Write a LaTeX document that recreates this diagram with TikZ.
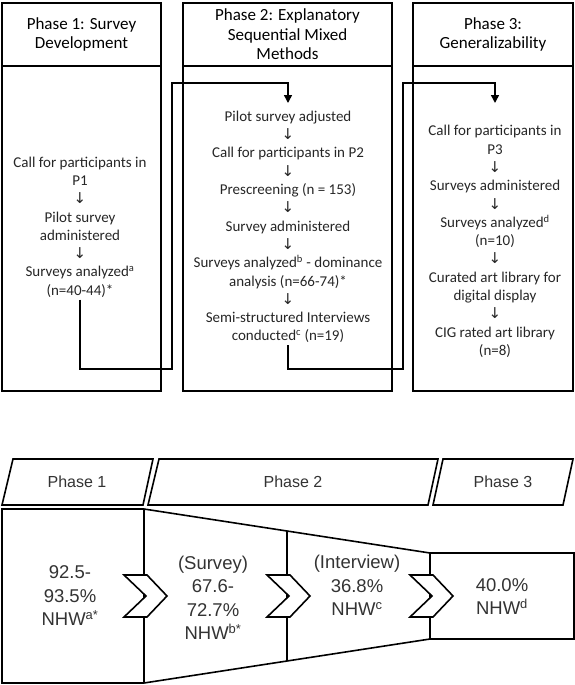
\documentclass[tikz,border=0pt]{standalone}
\usepackage{fontspec}
\setmainfont{Carlito}
\newfontfamily\arialf{Liberation Sans}
\newfontfamily\arrf{DejaVu Sans}
\usetikzlibrary{arrows.meta}
\newcommand{\dnarr}{{\arrf\fontsize{15}{15}\selectfont ↓}}
\tikzset{
  box/.style={line width=1.8pt},
  conn/.style={line width=1.5pt},
  head/.style={align=center, font=\fontsize{17}{19.5}\selectfont},
  steps/.style={align=center, inner sep=2pt, font=\fontsize{15}{18.3}\selectfont, text=black!85},
  plabel/.style={font=\arialf\fontsize{16}{19}\selectfont, text=black!80},
  stat/.style={align=center, font=\arialf\fontsize{18.5}{23.5}\selectfont, text=black!80},
  band/.style={line width=1.6pt, line join=miter},
}
\begin{document}
\begin{tikzpicture}[x=1pt,y=-1pt]
\useasboundingbox (0,0) rectangle (575,685);
% ---------- top: three phase boxes ----------
\draw[box] (2,3) rectangle (161,391);
\draw[box] (2,66) -- (161,66);
\draw[box] (183,3) rectangle (392,391);
\draw[box] (183,66) -- (392,66);
\draw[box] (413,3) rectangle (573,391);
\draw[box] (413,66) -- (573,66);

\node[head] (h1) at (81.5,34.5) {Phase 1: Survey\\Development};
\node[head] (h2) at (287.5,34.5) {Phase 2: Explanatory\\Sequential Mixed\\Methods};
\node[head] (h3) at (493,34.5) {Phase 3:\\Generalizability};

\node[steps] (p1) at (80,227) {Call for participants in\\P1\\\dnarr\\Pilot survey\\administered\\\dnarr\\Surveys analyzed\textsuperscript{a}\\(n=40-44)*};
\node[steps] (p2) at (288,227) {Pilot survey adjusted\\\dnarr\\Call for participants in P2\\\dnarr\\Prescreening (n = 153)\\\dnarr\\Survey administered\\\dnarr\\Surveys analyzed\textsuperscript{b} - dominance\\analysis (n=66-74)*\\\dnarr\\Semi-structured Interviews\\conducted\textsuperscript{c} (n=19)};
\node[steps] (p3) at (495,241.5) {Call for participants in\\P3\\\dnarr\\Surveys administered\\\dnarr\\Surveys analyzed\textsuperscript{d}\\(n=10)\\\dnarr\\Curated art library for\\digital display\\\dnarr\\CIG rated art library\\(n=8)};

\coordinate (k1) at (172,369);
\coordinate (a2) at (288,83);
\coordinate (a2end) at (288,103);
\coordinate (k2) at (403,369);
\coordinate (a3) at (495,83);
\coordinate (a3end) at (495,103);

\draw[conn, -{Triangle[width=8pt,length=8pt]}] (p1.south) |- (k1) |- (a2) -- (a2end);
\draw[conn, -{Triangle[width=8pt,length=8pt]}] (p2.south) |- (k2) |- (a3) -- (a3end);

% ---------- bottom: phase banners ----------
\draw[band] (13,459) -- (153,459) -- (143,505) -- (2,505) -- cycle;
\draw[band] (159,459) -- (438,459) -- (428,505) -- (148,505) -- cycle;
\draw[band] (443,459) -- (573,459) -- (563,505) -- (433,505) -- cycle;
\node[plabel] (l1) at (77,482) {Phase 1};
\node[plabel] (l2) at (293,482) {Phase 2};
\node[plabel] (l3) at (503,482) {Phase 3};

% ---------- bottom: funnel ----------
\draw[band] (2,509) -- (144,509) -- (287,531) -- (430,553) -- (574,553) -- (574,639)
  -- (430,639) -- (287,661) -- (144,683) -- (2,683) -- cycle;
\draw[band] (144,509) -- (144,683);
\draw[band] (287,531) -- (287,661);
\draw[band] (430,553) -- (430,639);
\foreach \L in {144,287,430}{
  \draw[band, fill=white] (\L-20,575) -- (\L+3,575) -- (\L+23,596) -- (\L+3,617)
    -- (\L-20,617) -- (\L+2,596) -- cycle;
}
\node[stat] (s1) at (70,596) {92.5-\\93.5\%\\NHW\textsuperscript{a*}};
\node[stat] (s2) at (213,598) {(Survey)\\67.6-\\72.7\%\\NHW\textsuperscript{b*}};
\node[stat] (s3) at (357,585.5) {(Interview)\\36.8\%\\NHW\textsuperscript{c}};
\node[stat] (s4) at (502,596.5) {40.0\%\\NHW\textsuperscript{d}};
\end{tikzpicture}
\end{document}
